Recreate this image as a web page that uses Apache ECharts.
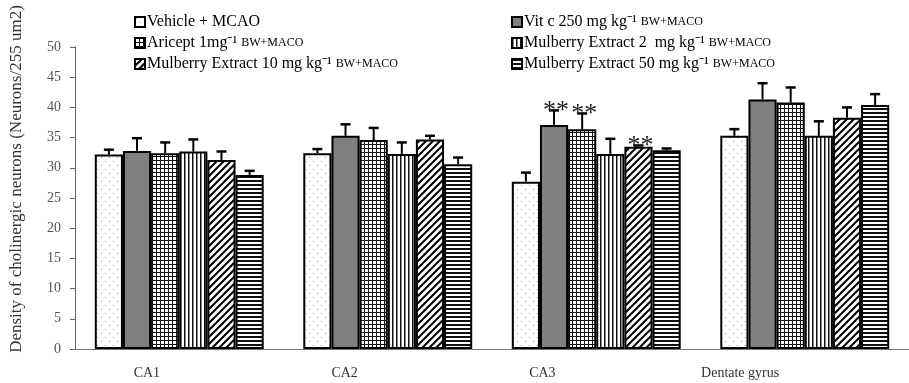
<!DOCTYPE html>
<html>
<head>
<meta charset="utf-8">
<script src="https://cdn.jsdelivr.net/npm/echarts@6/dist/echarts.min.js"></script>
<style>
  html, body { margin: 0; padding: 0; background: #fff; }
  #chart { width: 909px; height: 383px; }
</style>
</head>
<body>
<div id="chart"></div>
<script>
// brain regions on the x axis
const regions = ['CA1', 'CA2', 'CA3', 'Dentate gyrus']
// treatment groups, in bar order
const groups = [
  'Vehicle + MCAO',
  'Vit c 250 mg kg⁻¹ BW+MACO',
  'Aricept 1mg⁻¹ BW+MACO',
  'Mulberry Extract 2  mg kg⁻¹ BW+MACO',
  'Mulberry Extract 10 mg kg⁻¹ BW+MACO',
  'Mulberry Extract 50 mg kg⁻¹ BW+MACO'
]
// mean density per region
const vehicle = [32.2, 32.4, 27.7, 35.3]
const vitC = [32.8, 35.3, 37.1, 41.3]
const aricept = [32.4, 34.6, 36.4, 40.8]
const mulberry2 = [32.7, 32.3, 32.3, 35.3]
const mulberry10 = [31.3, 34.7, 33.5, 38.3]
const mulberry50 = [28.8, 30.6, 32.9, 40.4]
// upper error (SEM)
const vehicleErr = [0.8, 0.7, 1.5, 1.1]
const vitCErr = [2.1, 1.9, 2.4, 2.7]
const ariceptErr = [1.8, 2.0, 2.6, 2.5]
const mulberry2Err = [2.0, 1.9, 2.5, 2.4]
const mulberry10Err = [1.4, 0.6, 0.2, 1.7]
const mulberry50Err = [0.7, 1.1, 0.3, 1.8]
// significance marks
const vitCSig = ['', '', '**', '']
const ariceptSig = ['', '', '**', '']
const mulberry10Sig = ['', '', '**', '']
// y axis
const yMin = 0
const yMax = 50
const yStep = 5

const means = [vehicle, vitC, aricept, mulberry2, mulberry10, mulberry50]
const errs = [vehicleErr, vitCErr, ariceptErr, mulberry2Err, mulberry10Err, mulberry50Err]
const sigs = [[], vitCSig, ariceptSig, [], mulberry10Sig, []]

const FONT = '"Liberation Serif", "Times New Roman", serif'
const CAT_GAP = 0.19

function makePattern(w, h, draw) {
  const c = document.createElement('canvas')
  c.width = w
  c.height = h
  const ctx = c.getContext('2d')
  ctx.fillStyle = '#fff'
  ctx.fillRect(0, 0, w, h)
  draw(ctx)
  return { image: c, repeat: 'repeat' }
}

const fills = [
  // dots
  makePattern(8, 8, ctx => {
    ctx.fillStyle = '#9a9a9a'
    ctx.fillRect(1, 1, 1, 1)
    ctx.fillRect(5, 5, 1, 1)
  }),
  // dark grey
  makePattern(2, 2, ctx => {
    ctx.fillStyle = '#7a7a7a'
    ctx.fillRect(0, 0, 2, 2)
    ctx.fillStyle = '#858585'
    ctx.fillRect(0, 0, 1, 1)
    ctx.fillRect(1, 1, 1, 1)
  }),
  // small grid
  makePattern(4, 4, ctx => {
    ctx.fillStyle = '#111'
    ctx.fillRect(0, 0, 4, 1)
    ctx.fillRect(0, 0, 1, 4)
  }),
  // vertical lines
  makePattern(4, 4, ctx => {
    ctx.fillStyle = '#111'
    ctx.fillRect(0, 0, 1, 4)
    ctx.fillStyle = '#888'
    ctx.fillRect(1, 0, 1, 4)
  }),
  // diagonal lines
  makePattern(7, 7, ctx => {
    ctx.strokeStyle = '#000'
    ctx.lineWidth = 2
    ctx.beginPath()
    ctx.moveTo(-1, 8)
    ctx.lineTo(8, -1)
    ctx.moveTo(-4, 4)
    ctx.lineTo(4, -4)
    ctx.moveTo(3, 11)
    ctx.lineTo(11, 3)
    ctx.stroke()
  }),
  // horizontal lines
  makePattern(4, 4, ctx => {
    ctx.fillStyle = '#111'
    ctx.fillRect(0, 0, 4, 2)
  })
]

const barSeries = groups.map((name, i) => ({
  name,
  type: 'bar',
  data: means[i],
  barGap: '0%',
  barCategoryGap: CAT_GAP * 100 + '%',
  itemStyle: {
    color: fills[i],
    borderColor: '#000',
    borderWidth: 2
  },
  emphasis: { disabled: true },
  z: 2
}))

const errData = []
means.forEach((arr, i) => {
  arr.forEach((m, c) => {
    errData.push([c, m, i, errs[i][c], sigs[i][c] || ''])
  })
})

const errSeries = {
  type: 'custom',
  data: errData,
  encode: { x: 0, y: 1 },
  z: 3,
  silent: true,
  renderItem(params, api) {
    const c = api.value(0)
    const m = api.value(1)
    const i = api.value(2)
    const e = api.value(3)
    const mark = errData[params.dataIndex][4]
    const band = api.coord([1, 0])[0] - api.coord([0, 0])[0]
    const bw = band * (1 - CAT_GAP) / groups.length
    const x = api.coord([c, 0])[0] + (i - (groups.length - 1) / 2) * bw
    const yTop = api.coord([c, m])[1]
    const yCap = api.coord([c, m + e])[1]
    const children = [
      { type: 'line', shape: { x1: x, y1: yTop, x2: x, y2: yCap }, style: { stroke: '#000', lineWidth: 2 } },
      { type: 'line', shape: { x1: x - 5, y1: yCap, x2: x + 5, y2: yCap }, style: { stroke: '#000', lineWidth: 2.5 } }
    ]
    if (mark) {
      children.push({
        type: 'text',
        x: x + 2,
        y: yCap + 1,
        style: { text: mark, fontSize: 26, fontFamily: FONT, fill: '#222', align: 'center', verticalAlign: 'middle' }
      })
    }
    return { type: 'group', children }
  }
}

function legendFormat(name) {
  const k = name.indexOf(' BW+MACO')
  if (k < 0) return name
  return name.slice(0, k) + ' {s|BW+MACO}'
}

const legendBase = {
  orient: 'vertical',
  top: 9,
  itemWidth: 10,
  itemHeight: 10,
  itemGap: 5,
  icon: 'rect',
  selectedMode: false,
  formatter: legendFormat,
  textStyle: {
    fontFamily: FONT,
    fontSize: 16,
    color: '#000',
    padding: [0, 0, 0, -3],
    rich: { s: { fontFamily: FONT, fontSize: 12, color: '#000' } }
  }
}

const chart = echarts.init(document.getElementById('chart'), null, { renderer: 'canvas' })
chart.setOption({
  animation: false,
  backgroundColor: '#fff',
  legend: [
    Object.assign({}, legendBase, { left: 129, data: [groups[0], groups[2], groups[4]] }),
    Object.assign({}, legendBase, { left: 506, data: [groups[1], groups[3], groups[5]] })
  ],
  grid: [
    { left: 72, right: -10, top: 47, bottom: 34 },
    { left: 48, right: 70, top: 349, bottom: 33 }
  ],
  xAxis: [
    {
      type: 'category',
      gridIndex: 0,
      data: regions,
      axisLine: { lineStyle: { color: '#777', width: 1 } },
      axisTick: { length: 6, lineStyle: { color: '#777' } },
      axisLabel: { show: false }
    },
    {
      type: 'category',
      gridIndex: 1,
      data: regions,
      axisLine: { show: false },
      axisTick: { show: false },
      axisLabel: { interval: 0, margin: 16, fontFamily: FONT, fontSize: 14, color: '#333' }
    }
  ],
  yAxis: [
    {
      type: 'value',
      gridIndex: 0,
      min: yMin,
      max: yMax,
      interval: yStep,
      name: 'Density of cholinergic neurons (Neurons/255 um2)',
      nameLocation: 'middle',
      nameGap: 50,
      nameTextStyle: { fontFamily: FONT, fontSize: 17, color: '#333', padding: [0, 0, 0, 38] },
      axisLine: { show: true, lineStyle: { color: '#666', width: 1 } },
      axisTick: { show: true, length: 5, lineStyle: { color: '#666' } },
      axisLabel: { margin: 14, fontFamily: FONT, fontSize: 14, color: '#555' },
      splitLine: { show: false }
    },
    { type: 'value', gridIndex: 1, show: false }
  ],
  series: barSeries.concat([errSeries])
})
</script>
</body>
</html>
